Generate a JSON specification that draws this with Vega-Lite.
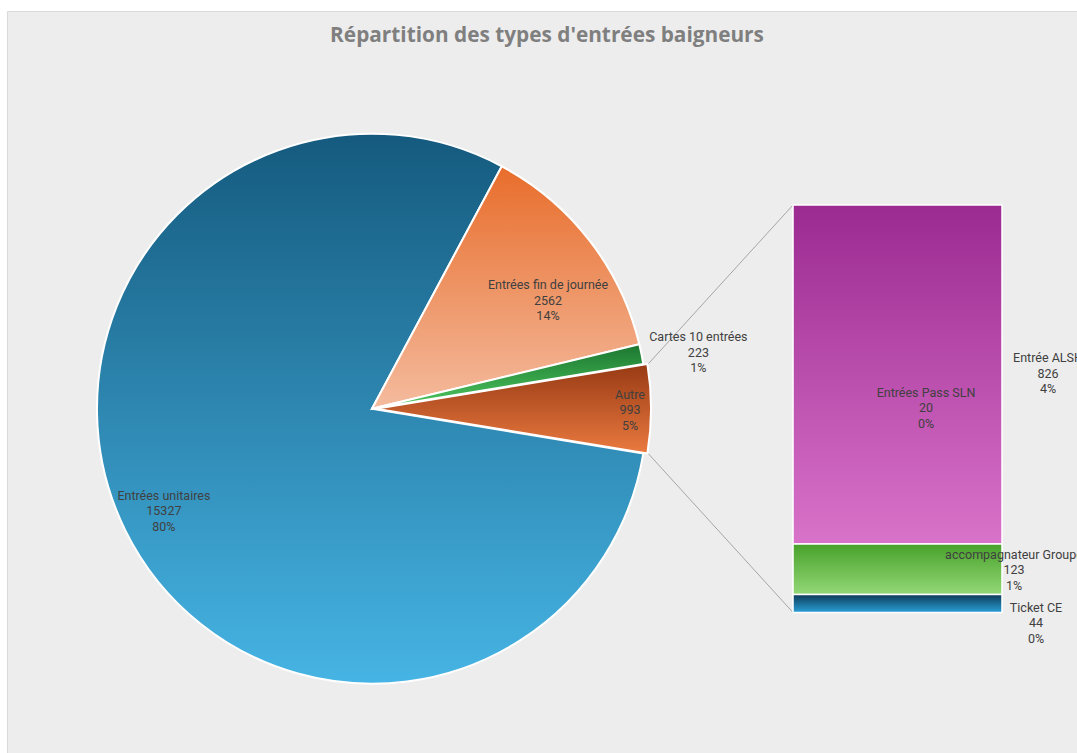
{
  "$schema": "https://vega.github.io/schema/vega-lite/v6.json",
  "width": 1070,
  "height": 742,
  "autosize": {"type": "none"},
  "padding": {"left": 7, "top": 11, "right": 0, "bottom": 0},
  "background": "white",
  "config": {"view": {"fill": "#ededed", "stroke": "#d9d9d9", "strokeWidth": 1}, "font": "Roboto"},
  "title": {"text": "Répartition des types d'entrées baigneurs", "anchor": "middle", "frame": "group", "offset": -36, "baseline": "top", "dx": 5, "fontSize": 20.8, "fontWeight": "bold", "color": "#7f7f7f", "font": "Open Sans"},
  "datasets": {
    "pie": [
      {"name": "Entrées fin de journée", "value": 2562, "pct": 14, "order": 1},
      {"name": "Cartes 10 entrées", "value": 223, "pct": 1, "order": 2},
      {"name": "Autre", "value": 993, "pct": 5, "order": 3},
      {"name": "Entrées unitaires", "value": 15327, "pct": 80, "order": 4}
    ],
    "bar": [
      {"name": "Ticket CE", "value": 44, "pct": 0, "order": 1},
      {"name": "accompagnateur Groupe", "value": 123, "pct": 1, "order": 2},
      {"name": "Entrée ALSH", "value": 826, "pct": 4, "order": 3},
      {"name": "Entrées Pass SLN", "value": 20, "pct": 0, "order": 4}
    ]
  },
  "layer": [
    {
      "data": {"name": "bar"},
      "transform": [
        {"stack": "value", "groupby": [], "sort": [{"field": "order", "order": "ascending"}], "as": ["y0", "y1"]},
        {"filter": "datum.name === 'Entrée ALSH'"}
      ],
      "mark": {"type": "rule", "color": "#a6a6a6", "strokeWidth": 1},
      "encoding": {
        "x": {"datum": 73.46, "type": "quantitative", "scale": {"domain": [0, 100], "nice": false, "zero": false}, "axis": null},
        "y": {"field": "y1", "type": "quantitative", "scale": {"domain": [-342.4, 1465.7], "nice": false, "zero": false}, "axis": null},
        "x2": {"datum": 59.93},
        "y2": {"datum": 605.8}
      }
    },
    {
      "data": {"name": "bar"},
      "transform": [
        {"stack": "value", "groupby": [], "sort": [{"field": "order", "order": "ascending"}], "as": ["y0", "y1"]},
        {"filter": "datum.name === 'Ticket CE'"}
      ],
      "mark": {"type": "rule", "color": "#a6a6a6", "strokeWidth": 1},
      "encoding": {
        "x": {"datum": 73.46, "type": "quantitative", "scale": {"domain": [0, 100], "nice": false, "zero": false}, "axis": null},
        "y": {"field": "y0", "type": "quantitative", "scale": {"domain": [-342.4, 1465.7], "nice": false, "zero": false}, "axis": null},
        "x2": {"datum": 59.93},
        "y2": {"datum": 387.2}
      }
    },
    {
      "data": {"name": "pie"},
      "transform": [
        {"stack": "value", "groupby": [], "sort": [{"field": "order", "order": "ascending"}], "as": ["t0", "t1"]},
        {"filter": "datum.name === 'Entrées unitaires'"}
      ],
      "mark": {"type": "arc", "outerRadius": 275, "stroke": "white", "strokeWidth": 2,
        "fill": {"gradient": "linear", "x1": 0, "y1": 0, "x2": 0, "y2": 1, "stops": [{"offset": 0, "color": "#155a7e"}, {"offset": 1, "color": "#46b4e4"}]}},
      "encoding": {
        "x": {"datum": 34.11, "type": "quantitative", "scale": {"domain": [0, 100], "nice": false, "zero": false}, "axis": null},
        "y": {"datum": 496.5, "type": "quantitative", "scale": {"domain": [-342.4, 1465.7], "nice": false, "zero": false}, "axis": null},
        "theta": {"field": "t0", "type": "quantitative", "stack": null, "scale": {"domain": [0, 19105], "range": [0.49159, 6.77478], "nice": false, "zero": false}},
        "theta2": {"field": "t1"}
      }
    },
    {
      "data": {"name": "pie"},
      "transform": [
        {"stack": "value", "groupby": [], "sort": [{"field": "order", "order": "ascending"}], "as": ["t0", "t1"]},
        {"filter": "datum.name === 'Entrées fin de journée'"}
      ],
      "mark": {"type": "arc", "outerRadius": 275, "stroke": "white", "strokeWidth": 2,
        "fill": {"gradient": "linear", "x1": 0, "y1": 0, "x2": 0, "y2": 1, "stops": [{"offset": 0, "color": "#e86d2b"}, {"offset": 1, "color": "#f4bb9e"}]}},
      "encoding": {
        "x": {"datum": 34.11, "type": "quantitative", "scale": {"domain": [0, 100], "nice": false, "zero": false}, "axis": null},
        "y": {"datum": 496.5, "type": "quantitative", "scale": {"domain": [-342.4, 1465.7], "nice": false, "zero": false}, "axis": null},
        "theta": {"field": "t0", "type": "quantitative", "stack": null, "scale": {"domain": [0, 19105], "range": [0.49159, 6.77478], "nice": false, "zero": false}},
        "theta2": {"field": "t1"}
      }
    },
    {
      "data": {"name": "pie"},
      "transform": [
        {"stack": "value", "groupby": [], "sort": [{"field": "order", "order": "ascending"}], "as": ["t0", "t1"]},
        {"filter": "datum.name === 'Cartes 10 entrées'"}
      ],
      "mark": {"type": "arc", "outerRadius": 275, "stroke": "white", "strokeWidth": 2,
        "fill": {"gradient": "linear", "x1": 0, "y1": 0, "x2": 0, "y2": 1, "stops": [{"offset": 0, "color": "#1b7630"}, {"offset": 1, "color": "#4fc860"}]}},
      "encoding": {
        "x": {"datum": 34.11, "type": "quantitative", "scale": {"domain": [0, 100], "nice": false, "zero": false}, "axis": null},
        "y": {"datum": 496.5, "type": "quantitative", "scale": {"domain": [-342.4, 1465.7], "nice": false, "zero": false}, "axis": null},
        "theta": {"field": "t0", "type": "quantitative", "stack": null, "scale": {"domain": [0, 19105], "range": [0.49159, 6.77478], "nice": false, "zero": false}},
        "theta2": {"field": "t1"}
      }
    },
    {
      "data": {"name": "pie"},
      "transform": [
        {"stack": "value", "groupby": [], "sort": [{"field": "order", "order": "ascending"}], "as": ["t0", "t1"]},
        {"filter": "datum.name === 'Autre'"}
      ],
      "mark": {"type": "arc", "outerRadius": 275, "stroke": "white", "strokeWidth": 2,
        "fill": {"gradient": "linear", "x1": 0, "y1": 0, "x2": 0, "y2": 1, "stops": [{"offset": 0, "color": "#983a14"}, {"offset": 1, "color": "#ea7a40"}]}},
      "encoding": {
        "x": {"datum": 34.49, "type": "quantitative", "scale": {"domain": [0, 100], "nice": false, "zero": false}, "axis": null},
        "y": {"datum": 496.5, "type": "quantitative", "scale": {"domain": [-342.4, 1465.7], "nice": false, "zero": false}, "axis": null},
        "theta": {"field": "t0", "type": "quantitative", "stack": null, "scale": {"domain": [0, 19105], "range": [0.49159, 6.77478], "nice": false, "zero": false}},
        "theta2": {"field": "t1"}
      }
    },
    {
      "data": {"name": "pie"},
      "transform": [
        {"stack": "value", "groupby": [], "sort": [{"field": "order", "order": "ascending"}], "as": ["t0", "t1"]},
        {"filter": "datum.name === 'Entrées unitaires'"},
        {"calculate": "(datum.t0 + datum.t1) / 2", "as": "tm"},
        {"calculate": "datum.name + '\\n' + datum.value + '\\n' + datum.pct + '%'", "as": "label"}
      ],
      "mark": {"type": "text", "radius": 232, "dy": -15.5, "lineBreak": "\n", "fontSize": 12.5, "lineHeight": 15.5, "color": "#404040", "align": "center", "baseline": "middle"},
      "encoding": {
        "x": {"datum": 34.11, "type": "quantitative", "scale": {"domain": [0, 100], "nice": false, "zero": false}, "axis": null},
        "y": {"datum": 496.5, "type": "quantitative", "scale": {"domain": [-342.4, 1465.7], "nice": false, "zero": false}, "axis": null},
        "theta": {"field": "tm", "type": "quantitative", "stack": null, "scale": {"domain": [0, 19105], "range": [0.49159, 6.77478], "nice": false, "zero": false}},
        "text": {"field": "label"}
      }
    },
    {
      "data": {"name": "pie"},
      "transform": [
        {"stack": "value", "groupby": [], "sort": [{"field": "order", "order": "ascending"}], "as": ["t0", "t1"]},
        {"filter": "datum.name === 'Entrées fin de journée'"},
        {"calculate": "(datum.t0 + datum.t1) / 2", "as": "tm"},
        {"calculate": "datum.name + '\\n' + datum.value + '\\n' + datum.pct + '%'", "as": "label"}
      ],
      "mark": {"type": "text", "radius": 206, "dx": 13, "dy": 2.5, "lineBreak": "\n", "fontSize": 12.5, "lineHeight": 15.5, "color": "#404040", "align": "center", "baseline": "middle"},
      "encoding": {
        "x": {"datum": 34.11, "type": "quantitative", "scale": {"domain": [0, 100], "nice": false, "zero": false}, "axis": null},
        "y": {"datum": 496.5, "type": "quantitative", "scale": {"domain": [-342.4, 1465.7], "nice": false, "zero": false}, "axis": null},
        "theta": {"field": "tm", "type": "quantitative", "stack": null, "scale": {"domain": [0, 19105], "range": [0.49159, 6.77478], "nice": false, "zero": false}},
        "text": {"field": "label"}
      }
    },
    {
      "data": {"name": "pie"},
      "transform": [
        {"stack": "value", "groupby": [], "sort": [{"field": "order", "order": "ascending"}], "as": ["t0", "t1"]},
        {"filter": "datum.name === 'Cartes 10 entrées'"},
        {"calculate": "(datum.t0 + datum.t1) / 2", "as": "tm"},
        {"calculate": "datum.name + '\\n' + datum.value + '\\n' + datum.pct + '%'", "as": "label"}
      ],
      "mark": {"type": "text", "radius": 331, "dx": 2, "dy": -5.5, "lineBreak": "\n", "fontSize": 12.5, "lineHeight": 15.5, "color": "#404040", "align": "center", "baseline": "middle"},
      "encoding": {
        "x": {"datum": 34.11, "type": "quantitative", "scale": {"domain": [0, 100], "nice": false, "zero": false}, "axis": null},
        "y": {"datum": 496.5, "type": "quantitative", "scale": {"domain": [-342.4, 1465.7], "nice": false, "zero": false}, "axis": null},
        "theta": {"field": "tm", "type": "quantitative", "stack": null, "scale": {"domain": [0, 19105], "range": [0.49159, 6.77478], "nice": false, "zero": false}},
        "text": {"field": "label"}
      }
    },
    {
      "data": {"name": "pie"},
      "transform": [
        {"stack": "value", "groupby": [], "sort": [{"field": "order", "order": "ascending"}], "as": ["t0", "t1"]},
        {"filter": "datum.name === 'Autre'"},
        {"calculate": "(datum.t0 + datum.t1) / 2", "as": "tm"},
        {"calculate": "datum.name + '\\n' + datum.value + '\\n' + datum.pct + '%'", "as": "label"}
      ],
      "mark": {"type": "text", "radius": 258, "dy": -14, "lineBreak": "\n", "fontSize": 12.5, "lineHeight": 15.5, "color": "#404040", "align": "center", "baseline": "middle"},
      "encoding": {
        "x": {"datum": 34.11, "type": "quantitative", "scale": {"domain": [0, 100], "nice": false, "zero": false}, "axis": null},
        "y": {"datum": 496.5, "type": "quantitative", "scale": {"domain": [-342.4, 1465.7], "nice": false, "zero": false}, "axis": null},
        "theta": {"field": "tm", "type": "quantitative", "stack": null, "scale": {"domain": [0, 19105], "range": [0.49159, 6.77478], "nice": false, "zero": false}},
        "text": {"field": "label"}
      }
    },
    {
      "data": {"name": "bar"},
      "transform": [
        {"stack": "value", "groupby": [], "sort": [{"field": "order", "order": "ascending"}], "as": ["y0", "y1"]},
        {"filter": "datum.name === 'Entrée ALSH'"}
      ],
      "mark": {"type": "rect", "stroke": "white", "strokeWidth": 1.5,
        "fill": {"gradient": "linear", "x1": 0, "y1": 0, "x2": 0, "y2": 1, "stops": [{"offset": 0, "color": "#9b2a91"}, {"offset": 1, "color": "#d972c9"}]}},
      "encoding": {
        "x": {"datum": 73.46, "type": "quantitative", "scale": {"domain": [0, 100], "nice": false, "zero": false}, "axis": null},
        "x2": {"datum": 92.99},
        "y": {"field": "y0", "type": "quantitative", "scale": {"domain": [-342.4, 1465.7], "nice": false, "zero": false}, "axis": null},
        "y2": {"field": "y1"}
      }
    },
    {
      "data": {"name": "bar"},
      "transform": [
        {"stack": "value", "groupby": [], "sort": [{"field": "order", "order": "ascending"}], "as": ["y0", "y1"]},
        {"filter": "datum.name === 'accompagnateur Groupe'"}
      ],
      "mark": {"type": "rect", "stroke": "white", "strokeWidth": 1.5,
        "fill": {"gradient": "linear", "x1": 0, "y1": 0, "x2": 0, "y2": 1, "stops": [{"offset": 0, "color": "#48a12a"}, {"offset": 1, "color": "#93d877"}]}},
      "encoding": {
        "x": {"datum": 73.46, "type": "quantitative", "scale": {"domain": [0, 100], "nice": false, "zero": false}, "axis": null},
        "x2": {"datum": 92.99},
        "y": {"field": "y0", "type": "quantitative", "scale": {"domain": [-342.4, 1465.7], "nice": false, "zero": false}, "axis": null},
        "y2": {"field": "y1"}
      }
    },
    {
      "data": {"name": "bar"},
      "transform": [
        {"stack": "value", "groupby": [], "sort": [{"field": "order", "order": "ascending"}], "as": ["y0", "y1"]},
        {"filter": "datum.name === 'Ticket CE'"}
      ],
      "mark": {"type": "rect", "stroke": "white", "strokeWidth": 1.5,
        "fill": {"gradient": "linear", "x1": 0, "y1": 0, "x2": 0, "y2": 1, "stops": [{"offset": 0, "color": "#0d3a57"}, {"offset": 1, "color": "#2aa0d8"}]}},
      "encoding": {
        "x": {"datum": 73.46, "type": "quantitative", "scale": {"domain": [0, 100], "nice": false, "zero": false}, "axis": null},
        "x2": {"datum": 92.99},
        "y": {"field": "y0", "type": "quantitative", "scale": {"domain": [-342.4, 1465.7], "nice": false, "zero": false}, "axis": null},
        "y2": {"field": "y1"}
      }
    },
    {
      "data": {"name": "bar"},
      "transform": [
        {"stack": "value", "groupby": [], "sort": [{"field": "order", "order": "ascending"}], "as": ["y0", "y1"]},
        {"filter": "datum.name === 'Entrée ALSH'"},
        {"calculate": "(datum.y0 + datum.y1) / 2", "as": "ym"},
        {"calculate": "datum.name + '\\n' + datum.value + '\\n' + datum.pct + '%'", "as": "label"}
      ],
      "mark": {"type": "text", "dx": 46, "dy": -16, "lineBreak": "\n", "fontSize": 12.5, "lineHeight": 15.5, "color": "#404040", "align": "center", "baseline": "middle"},
      "encoding": {
        "x": {"datum": 92.99, "type": "quantitative", "scale": {"domain": [0, 100], "nice": false, "zero": false}, "axis": null},
        "y": {"field": "ym", "type": "quantitative", "scale": {"domain": [-342.4, 1465.7], "nice": false, "zero": false}, "axis": null},
        "text": {"field": "label"}
      }
    },
    {
      "data": {"name": "bar"},
      "transform": [
        {"stack": "value", "groupby": [], "sort": [{"field": "order", "order": "ascending"}], "as": ["y0", "y1"]},
        {"filter": "datum.name === 'accompagnateur Groupe'"},
        {"calculate": "(datum.y0 + datum.y1) / 2", "as": "ym"},
        {"calculate": "datum.name + '\\n' + datum.value + '\\n' + datum.pct + '%'", "as": "label"}
      ],
      "mark": {"type": "text", "dx": 12, "dy": -14.5, "lineBreak": "\n", "fontSize": 12.5, "lineHeight": 15.5, "color": "#404040", "align": "center", "baseline": "middle"},
      "encoding": {
        "x": {"datum": 92.99, "type": "quantitative", "scale": {"domain": [0, 100], "nice": false, "zero": false}, "axis": null},
        "y": {"field": "ym", "type": "quantitative", "scale": {"domain": [-342.4, 1465.7], "nice": false, "zero": false}, "axis": null},
        "text": {"field": "label"}
      }
    },
    {
      "data": {"name": "bar"},
      "transform": [
        {"stack": "value", "groupby": [], "sort": [{"field": "order", "order": "ascending"}], "as": ["y0", "y1"]},
        {"filter": "datum.name === 'Ticket CE'"},
        {"calculate": "(datum.y0 + datum.y1) / 2", "as": "ym"},
        {"calculate": "datum.name + '\\n' + datum.value + '\\n' + datum.pct + '%'", "as": "label"}
      ],
      "mark": {"type": "text", "dx": 34, "dy": 4.5, "lineBreak": "\n", "fontSize": 12.5, "lineHeight": 15.5, "color": "#404040", "align": "center", "baseline": "middle"},
      "encoding": {
        "x": {"datum": 92.99, "type": "quantitative", "scale": {"domain": [0, 100], "nice": false, "zero": false}, "axis": null},
        "y": {"field": "ym", "type": "quantitative", "scale": {"domain": [-342.4, 1465.7], "nice": false, "zero": false}, "axis": null},
        "text": {"field": "label"}
      }
    },
    {
      "data": {"name": "bar"},
      "transform": [
        {"filter": "datum.name === 'Entrées Pass SLN'"},
        {"calculate": "datum.name + '\\n' + datum.value + '\\n' + datum.pct + '%'", "as": "label"}
      ],
      "mark": {"type": "text", "dx": -76, "dy": -16, "lineBreak": "\n", "fontSize": 12.5, "lineHeight": 15.5, "color": "#404040", "align": "center", "baseline": "middle"},
      "encoding": {
        "x": {"datum": 92.99, "type": "quantitative", "scale": {"domain": [0, 100], "nice": false, "zero": false}, "axis": null},
        "y": {"datum": 496.5, "type": "quantitative", "scale": {"domain": [-342.4, 1465.7], "nice": false, "zero": false}, "axis": null},
        "text": {"field": "label"}
      }
    }
  ]
}
